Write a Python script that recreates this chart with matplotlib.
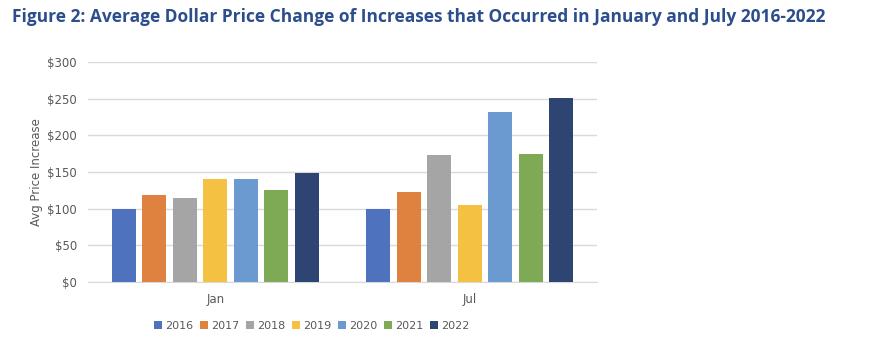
import matplotlib.pyplot as plt
import numpy as np

months = ["Jan", "Jul"]
years = ["2016", "2017", "2018", "2019", "2020", "2021", "2022"]
jan_vals = [99, 118, 114, 141, 141, 125, 148]
jul_vals = [99, 123, 173, 105, 232, 174, 251]
colors = ["#4F72BF", "#E0823F", "#A5A5A5", "#F4C142", "#6A9AD0", "#7EAA55", "#2E4473"]

fig = plt.figure(figsize=(8.7, 3.46), dpi=100)
ax = fig.add_axes([88 / 870, 1 - 282 / 346, 509 / 870, 220 / 346])

x = np.arange(len(months))
step = 0.12
width = 0.094
for i, yr in enumerate(years):
    vals = [jan_vals[i], jul_vals[i]]
    ax.bar(x + (i - 3) * step, vals, width, color=colors[i], label=yr, zorder=3)

ax.set_xlim(-0.5, 1.5)
ax.set_ylim(0, 300)
ax.set_yticks(range(0, 301, 50))
ax.set_yticklabels(["$%d" % v for v in range(0, 301, 50)])
ax.set_xticks(x)
ax.set_xticklabels(months)
ax.grid(axis="y", color="#D9D9D9", linewidth=1, zorder=0)
for s in ["top", "right", "left"]:
    ax.spines[s].set_visible(False)
ax.spines["bottom"].set_color("#D9D9D9")
ax.tick_params(axis="both", length=0, colors="#595959", labelsize=8.5)
ax.tick_params(axis="y", pad=8)
ax.tick_params(axis="x", pad=8)
ax.set_ylabel("Avg Price Increase", color="#595959", fontsize=8.5, labelpad=3)

fig.text(12 / 870, 1 - 22 / 346, "Figure 2: Average Dollar Price Change of Increases that Occurred in January and July 2016-2022",
         fontsize=12.5, fontweight="bold", color="#2D4E8C", va="baseline", ha="left",
         family=["Open Sans", "DejaVu Sans"])

fig.legend(loc="center", bbox_to_anchor=(312 / 870, 1 - 326 / 346), ncol=7, frameon=False,
           fontsize=8, handlelength=0.7, handleheight=0.7, handletextpad=0.3,
           columnspacing=0.6, labelcolor="#595959")

fig.savefig("out.png", dpi=100)
